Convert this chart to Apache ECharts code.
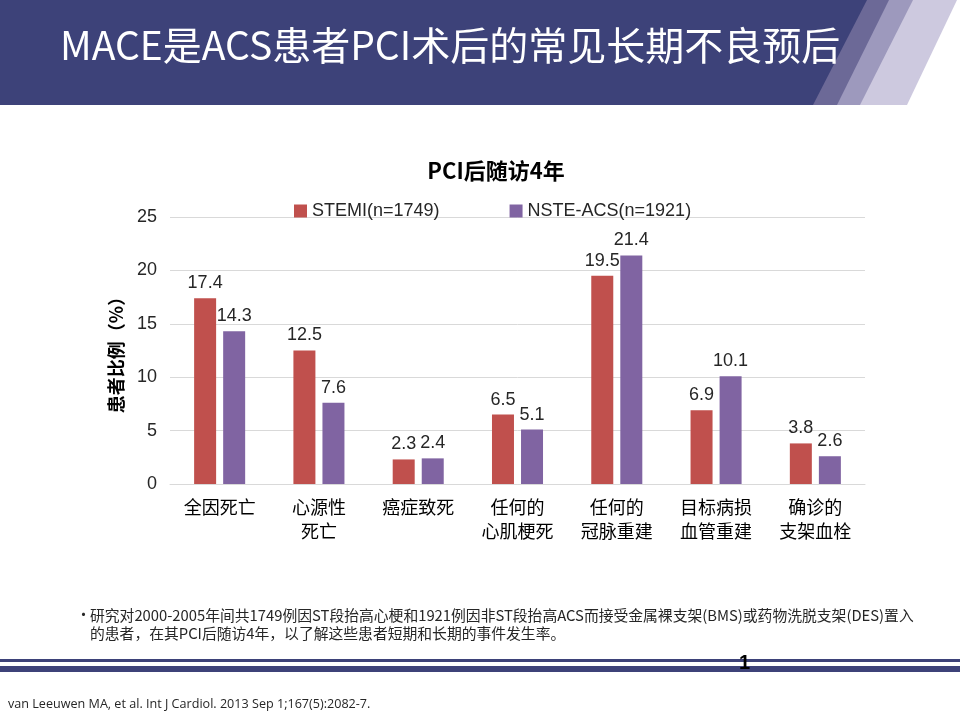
<!DOCTYPE html>
<html><head><meta charset="utf-8">
<script src="https://cdn.jsdelivr.net/npm/echarts@6/dist/echarts.min.js"></script>
<style>html,body{margin:0;padding:0;background:#fff}#c{width:960px;height:720px}</style>
</head><body><div id="c"></div>
<script>
const categories = ['全因死亡','心源性\n死亡','癌症致死','任何的\n心肌梗死','任何的\n冠脉重建','目标病损\n血管重建','确诊的\n支架血栓'];
const stemi = [17.4, 12.5, 2.3, 6.5, 19.5, 6.9, 3.8];
const nste = [14.3, 7.6, 2.4, 5.1, 21.4, 10.1, 2.6];
const seriesNames = ['STEMI(n=1749)', 'NSTE-ACS(n=1921)'];
const yTicks = [0, 5, 10, 15, 20, 25];

const CJK = '"Noto Sans CJK SC","Liberation Sans",sans-serif';
const ARIAL = '"Liberation Sans",Arial,sans-serif';
const navy = '#3d4279';

const chart = echarts.init(document.getElementById('c'), null, {renderer:'canvas'});
chart.setOption({
  backgroundColor: '#fff',
  animation: false,
  title: {
    text: 'PCI后随访4年', left: 491, top: 155, textAlign: 'center',
    textStyle: {fontFamily: CJK, fontSize: 22, fontWeight: 'bold', color: '#000'}
  },
  legend: {
    left: 289, top: 197, itemWidth: 13, itemHeight: 13, itemGap: 70, itemSpacing: 4,
    icon: 'rect',
    textStyle: {fontFamily: ARIAL, fontSize: 18, color: '#262626'},
    data: seriesNames
  },
  grid: {left: 170, right: 95, top: 217, bottom: 236},
  xAxis: {
    type: 'category', data: categories,
    axisLine: {lineStyle: {color: '#d9d9d9'}},
    axisTick: {show: false},
    axisLabel: {fontFamily: CJK, fontSize: 18, color: '#000', lineHeight: 24, margin: 11, interval: 0}
  },
  yAxis: {
    type: 'value', min: yTicks[0], max: yTicks[yTicks.length-1], interval: 5,
    name: '患者比例（%）', nameLocation: 'middle', nameGap: 45, nameRotate: 90,
    nameTextStyle: {fontFamily: CJK, fontSize: 18, fontWeight: 'bold', color: '#000'},
    axisLine: {show: false}, axisTick: {show: false},
    axisLabel: {fontFamily: ARIAL, fontSize: 18, color: '#262626', margin: 13},
    splitLine: {lineStyle: {color: '#d9d9d9'}}
  },
  series: [
    {name: seriesNames[0], type: 'bar', data: stemi, barWidth: 22, barGap: '32%',
     itemStyle: {color: '#c0504d'},
     label: {show: true, position: 'top', distance: 6, fontFamily: ARIAL, fontSize: 18, color: '#262626'}},
    {name: seriesNames[1], type: 'bar', data: nste, barWidth: 22,
     itemStyle: {color: '#8064a2'},
     label: {show: true, position: 'top', distance: 6, fontFamily: ARIAL, fontSize: 18, color: '#262626'}}
  ],
  graphic: [
    // header stripes (back to front)
    {type: 'polygon', silent: true, z: -1, shape: {points: [[0,0],[957,0],[907,105],[0,105]]}, style: {fill: '#cdc9df'}},
    {type: 'polygon', silent: true, z: -1, shape: {points: [[0,0],[913,0],[860,105],[0,105]]}, style: {fill: '#9d99bd'}},
    {type: 'polygon', silent: true, z: -1, shape: {points: [[0,0],[889,0],[837,105],[0,105]]}, style: {fill: '#6c6997'}},
    {type: 'polygon', silent: true, z: -1, shape: {points: [[0,0],[867,0],[813,105],[0,105]]}, style: {fill: navy}},
    {type: 'text', left: 60, top: 26, style: {text: 'MACE是ACS患者PCI术后的常见长期不良预后', fill: '#fff', font: '39px "Noto Sans CJK SC", sans-serif'}},
    // bullet text
    {type: 'text', left: 76, top: 607, style: {text: '•', fill: '#262626', font: '15px "Noto Sans CJK SC", sans-serif'}},
    {type: 'text', left: 90, top: 606, style: {text: '研究对2000-2005年间共1749例因ST段抬高心梗和1921例因非ST段抬高ACS而接受金属裸支架(BMS)或药物洗脱支架(DES)置入\n的患者，在其PCI后随访4年，以了解这些患者短期和长期的事件发生率。', fill: '#262626', font: '14.8px "Noto Sans CJK SC", sans-serif', lineHeight: 18}},
    // bottom lines
    {type: 'rect', silent: true, shape: {x: 0, y: 659, width: 960, height: 3}, style: {fill: navy}},
    {type: 'rect', silent: true, shape: {x: 0, y: 666, width: 960, height: 6}, style: {fill: navy}},
    {type: 'text', left: 739, top: 653, z: 10, style: {text: '1', fill: '#000', font: 'bold 20px "Liberation Sans", sans-serif'}},
    // reference
    {type: 'text', left: 8, top: 698, style: {text: 'van Leeuwen MA, et al. Int J Cardiol. 2013 Sep 1;167(5):2082-7.', fill: '#262626', font: '12.6px "Open Sans", sans-serif'}}
  ]
});
</script></body></html>
